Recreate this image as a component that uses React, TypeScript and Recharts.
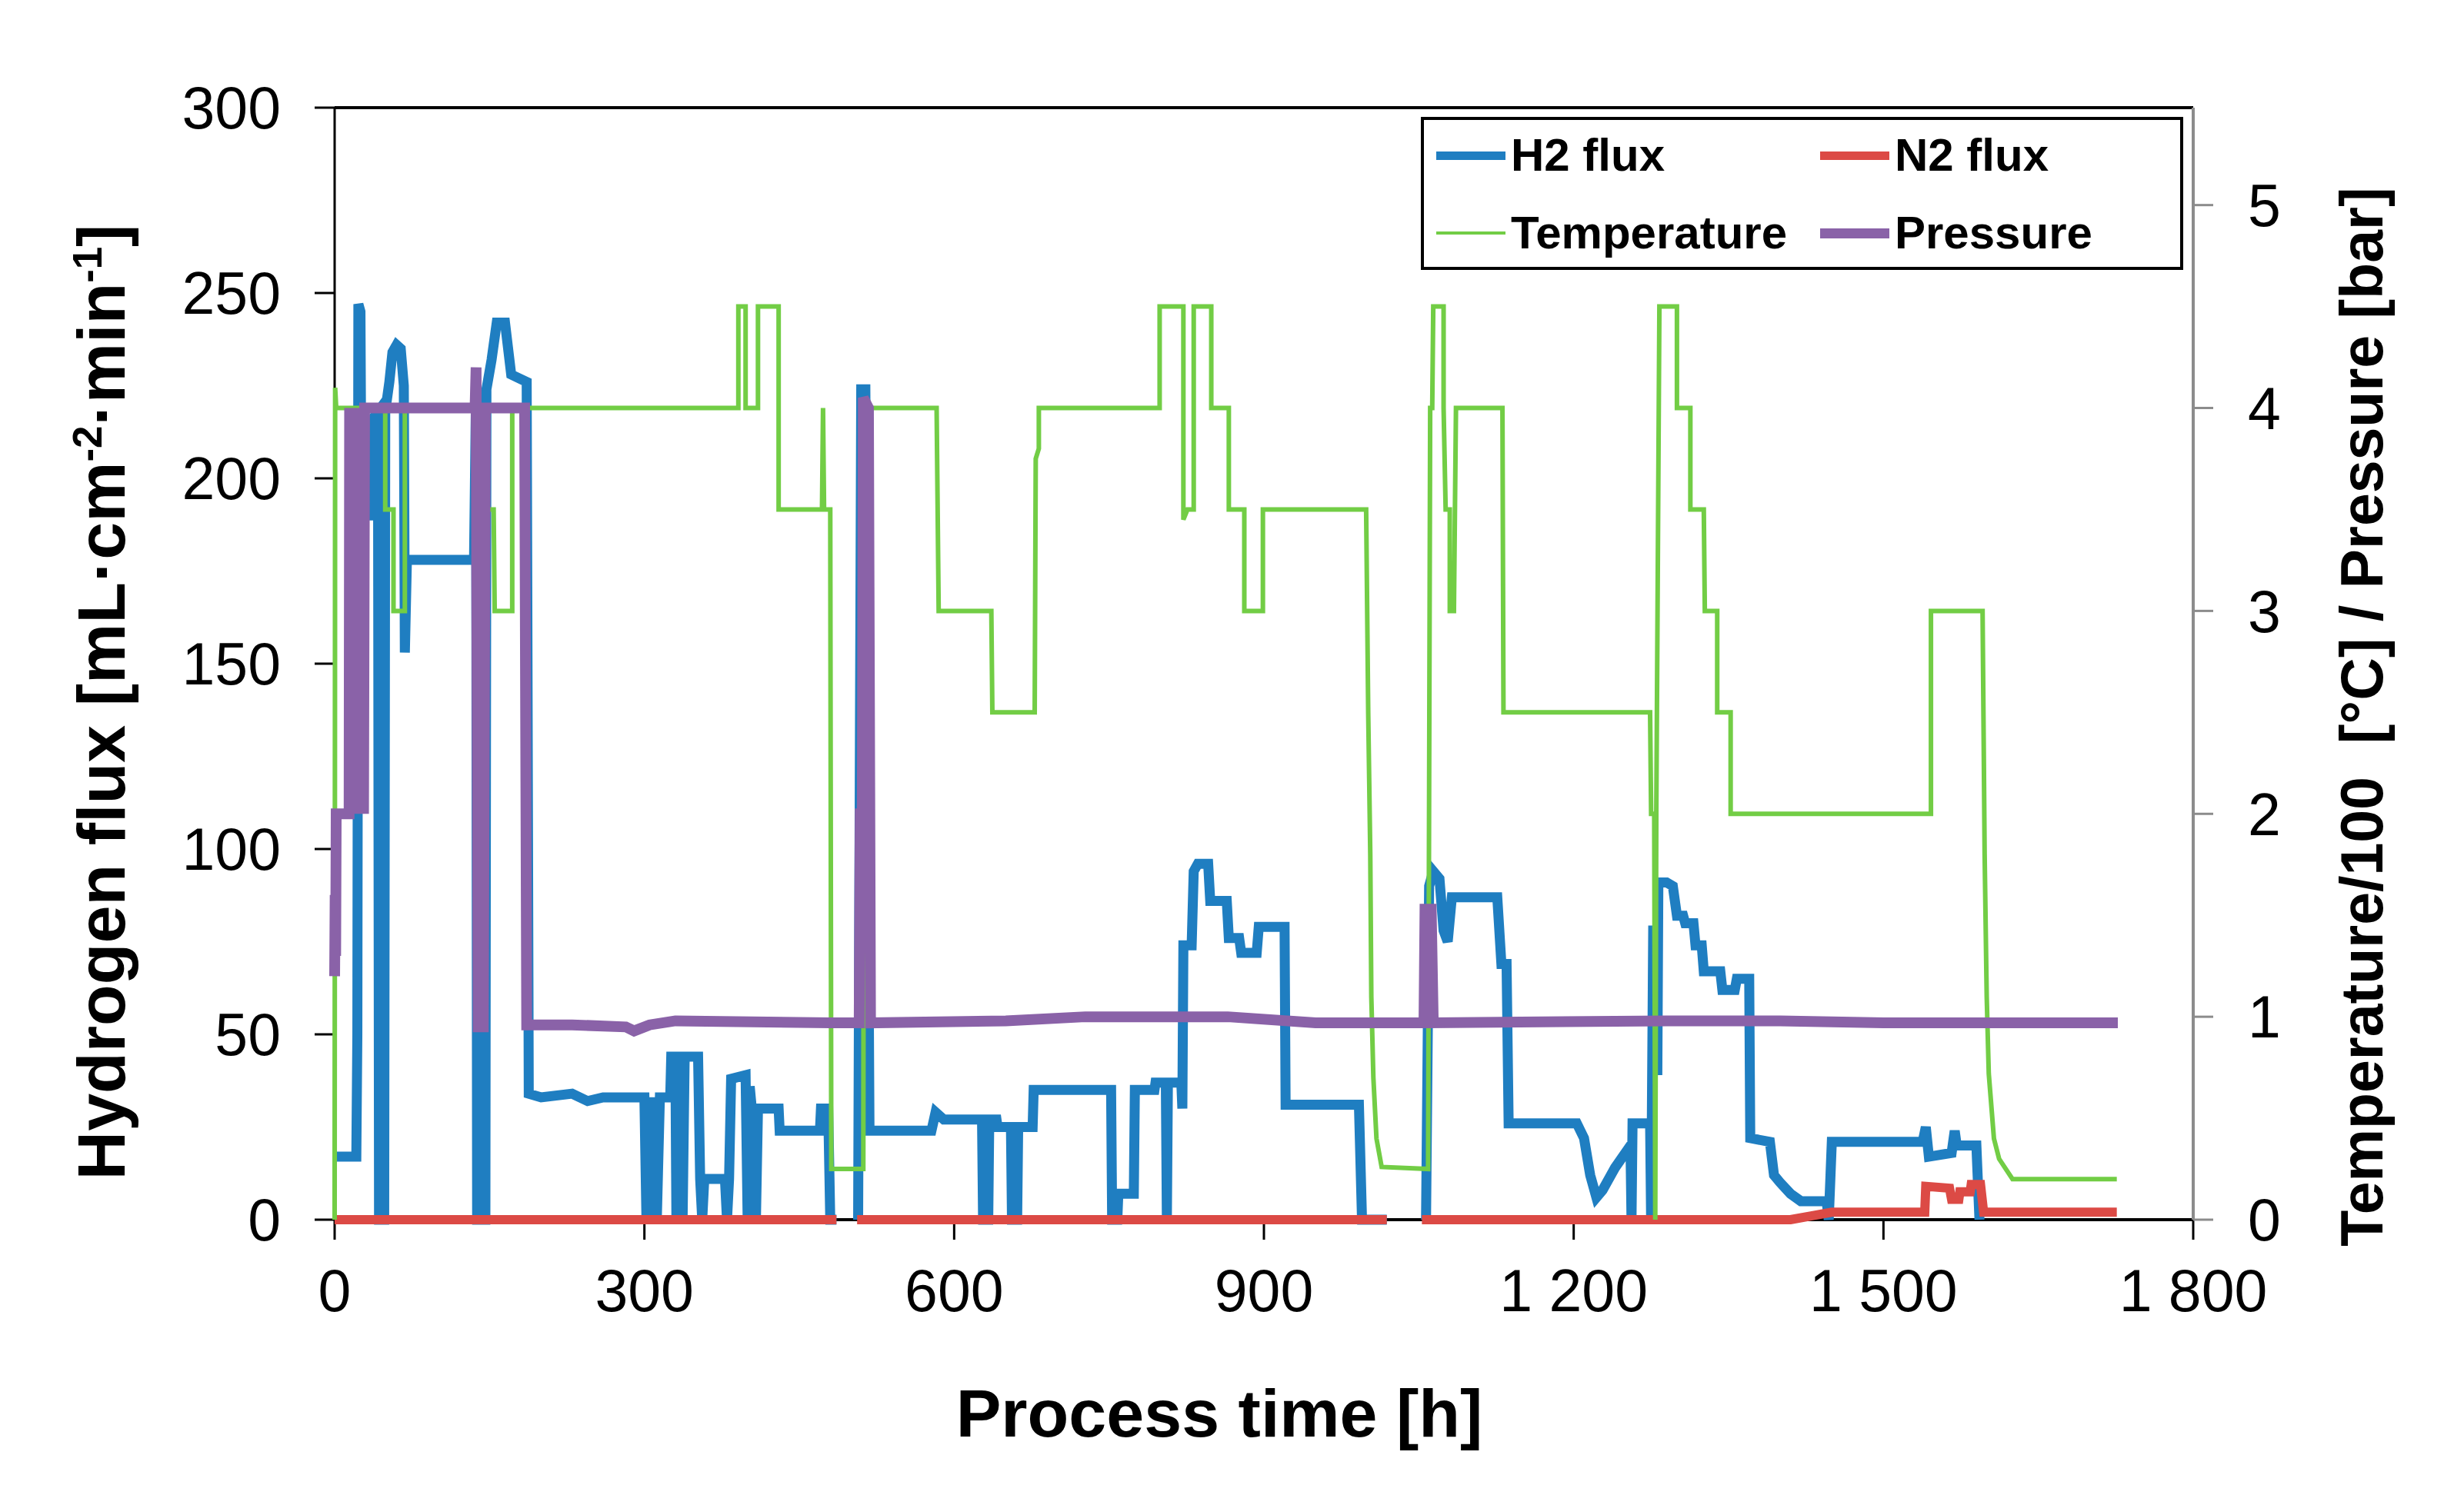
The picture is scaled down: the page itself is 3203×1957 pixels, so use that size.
import { LineChart, Line, XAxis, YAxis, ReferenceLine } from "recharts";

const xTicks = [0, 300, 600, 900, 1200, 1500, 1800];
const fluxTicks = [0, 50, 100, 150, 200, 250, 300];
const rightTicks = [0, 1, 2, 3, 4, 5];

// [time h, H2 flux mL/cm2/min]
const h2Flux: [number, number | null][] = [
  [2, 17], [21, 17], [22, 50], [23, 247], [25, 245], [26, 190], [33, 190], [34, 215], [42, 218], [43, 0], [48, 0],
  [49, 218], [53, 226], [56, 234], [60, 236], [64, 235], [67, 225], [68, 153], [70, 178], [135, 178], [137, 225],
  [138, 0], [146, 0], [147, 224], [152, 232], [157, 242], [165, 242], [171, 228], [186, 226], [188, 34], [200, 33],
  [230, 34], [245, 32], [260, 33], [300, 33], [302, 0], [305, 33], [307, 0], [310, 33], [312, 0], [315, 33],
  [325, 33], [326, 44], [330, 44], [331, 0], [333, 44], [337, 0], [339, 44], [352, 44], [354, 11], [356, 0],
  [358, 11], [378, 11], [380, 0], [382, 11], [384, 38], [398, 39], [400, 0], [402, 36], [404, 30], [408, 0],
  [410, 30], [430, 30], [431, 24], [470, 24], [471, 30], [478, 30], [480, 0], [486, 0], [487, null],
  [507, 0], [510, 224], [514, 224], [518, 24], [578, 24], [582, 29], [590, 27], [627, 27], [628, 0], [633, 0],
  [634, 27], [641, 27], [642, 25], [655, 25], [656, 0], [661, 0], [662, 25], [676, 25], [677, 35], [752, 35],
  [753, 0], [758, 0], [759, 7], [774, 7], [775, 35], [794, 35], [795, 37], [805, 37], [806, 0], [807, 37],
  [820, 37], [821, 30], [822, 74], [830, 74], [832, 94], [836, 96], [846, 96], [848, 86], [864, 86], [866, 76],
  [876, 76], [878, 72], [893, 72], [895, 79], [920, 79], [921, 31], [992, 31], [995, 0], [1019, 0], [1020, null],
  [1057, 0], [1060, 90], [1064, 94], [1070, 92], [1074, 78], [1078, 75], [1082, 87], [1126, 87], [1130, 69],
  [1135, 69], [1137, 26], [1203, 26], [1210, 22], [1216, 12], [1222, 6], [1228, 8], [1240, 14], [1255, 20],
  [1256, 0], [1257, 26], [1274, 26], [1275, 0], [1277, 78], [1280, 78], [1281, 39], [1282, 91], [1290, 91],
  [1296, 90], [1300, 82], [1306, 82], [1308, 80], [1316, 80], [1318, 74], [1324, 74], [1326, 67], [1342, 67],
  [1344, 62], [1356, 62], [1358, 65], [1370, 65], [1371, 22], [1390, 21], [1394, 12], [1400, 10], [1410, 7],
  [1420, 5], [1445, 5], [1447, 0], [1450, 21], [1538, 21], [1541, 25], [1544, 17], [1566, 18], [1569, 24],
  [1571, 20], [1590, 20], [1593, 0],
];

// [time h, N2 flux]
const n2Flux: [number, number | null][] = [
  [0, 0], [486, 0], [487, null], [506, 0], [1019, 0], [1020, null], [1053, 0], [1410, 0], [1430, 1], [1450, 2],
  [1540, 2], [1541, 9], [1564, 8.5], [1566, 5.5], [1573, 5.5], [1574, 7.5], [1584, 7.5], [1585, 9.5], [1594, 9.5],
  [1597, 2], [1726, 2],
];

// [time h, temperature / 100 °C]
const temperature: [number, number][] = [
  [0, 0], [0.5, 4.1], [1.5, 4.0], [49, 4.0], [49, 3.5], [57, 3.5], [57, 3.0], [68, 3.0], [68, 4.0], [148, 4.0],
  [148, 3.5], [154, 3.5], [155, 3.0], [172, 3.0], [172, 4.0], [391, 4.0], [391, 4.5], [398, 4.5], [398, 4.0],
  [410, 4.0], [410, 4.5], [430, 4.5], [430, 3.5], [472, 3.5], [473, 4.0], [474, 3.5], [480, 3.5], [481, 0.25],
  [512, 0.25], [513, 4.0], [583, 4.0], [585, 3.0], [636, 3.0], [637, 2.5], [678, 2.5], [679, 3.75], [682, 3.8],
  [682, 4.0], [799, 4.0], [799, 4.5], [822, 4.5], [822, 3.45], [826, 3.5], [832, 3.5], [832, 4.5], [849, 4.5],
  [849, 4.0], [866, 4.0], [866, 3.5], [881, 3.5], [881, 3.0], [899, 3.0], [899, 3.5], [999, 3.5], [1001, 2.5],
  [1003, 1.8], [1004, 1.1], [1006, 0.7], [1009, 0.4], [1014, 0.26], [1059, 0.25], [1061, 4.0], [1063, 4.0],
  [1064, 4.5], [1074, 4.5], [1074, 4.0], [1076, 3.5], [1080, 3.5], [1080, 3.0], [1084, 3.0], [1086, 4.0],
  [1131, 4.0], [1132, 2.5], [1274, 2.5], [1275, 2.0], [1278, 2.0], [1279, 0], [1280, 2.0], [1283, 4.5],
  [1300, 4.5], [1300, 4.0], [1313, 4.0], [1313, 3.5], [1326, 3.5], [1327, 3.0], [1339, 3.0], [1339, 2.5],
  [1352, 2.5], [1352, 2.0], [1546, 2.0], [1546, 3.0], [1596, 3.0], [1598, 1.8], [1600, 1.1], [1602, 0.72],
  [1607, 0.4], [1612, 0.3], [1625, 0.2], [1726, 0.2],
];

// [time h, pressure bar]
const pressure: [number, number][] = [
  [0, 1.2], [0.5, 1.6], [1, 1.3], [1.5, 2.0], [14, 2.0], [14.5, 4.0], [16, 2.1], [17, 4.0], [19, 2.2], [20, 4.0],
  [22, 2.0], [23, 4.0], [25, 2.1], [26, 4.0], [28, 2.0], [29, 4.0], [136, 4.0], [137, 4.2], [139, 0.95],
  [144, 0.95], [146, 4.0], [184, 4.0], [186, 0.96], [230, 0.96], [282, 0.95], [290, 0.93], [305, 0.96],
  [330, 0.98], [480, 0.97], [508, 0.97], [509, 2.0], [511, 2.0], [512, 4.05], [517, 4.0], [519, 0.97],
  [650, 0.98], [727, 1.0], [865, 1.0], [950, 0.97], [1055, 0.97], [1056, 1.53], [1062, 1.53], [1064, 0.97],
  [1290, 0.98], [1400, 0.98], [1500, 0.97], [1727, 0.97],
];

const toRows = (pts: [number, number | null][]) => pts.map(([t, v]) => ({ t, v }));

const BLUE = "#1f7ec1";
const RED = "#dc4a45";
const GREEN = "#72cd45";
const PURPLE = "#8a62a8";

const FONT = "'Liberation Sans', Arial, sans-serif";
const tickStyle = { fontSize: 77, fill: "#000", fontFamily: FONT };

const fmtX = (v: number) =>
  v >= 1000 ? `${Math.floor(v / 1000)} ${String(v % 1000).padStart(3, "0")}` : `${v}`;

const legendItems = [
  { name: "H2 flux", color: BLUE, width: 11, x: 16, y: 46 },
  { name: "N2 flux", color: RED, width: 11, x: 515, y: 46 },
  { name: "Temperature", color: GREEN, width: 4, x: 16, y: 147 },
  { name: "Pressure", color: PURPLE, width: 13, x: 515, y: 147 },
];

export default function App() {
  return (
    <div style={{ position: "relative", width: 3203, height: 1957, background: "#fff", fontFamily: FONT }}>
      <style>{`body{margin:0}`}</style>
      <LineChart width={3203} height={1957} margin={{ top: 140, right: 102, bottom: 221, left: 135 }}>
        <XAxis
          dataKey="t"
          type="number"
          domain={[0, 1800]}
          ticks={xTicks}
          interval={0}
          tickFormatter={fmtX}
          tick={tickStyle}
          tickSize={26}
          tickMargin={38}
          height={150}
          axisLine={{ stroke: "#000", strokeWidth: 4 }}
          tickLine={{ stroke: "#000", strokeWidth: 3 }}
          allowDuplicatedCategory={false}
        />
        <YAxis
          yAxisId="left"
          domain={[0, 300]}
          ticks={fluxTicks}
          interval={0}
          tick={tickStyle}
          tickSize={26}
          tickMargin={44}
          width={300}
          axisLine={{ stroke: "#000", strokeWidth: 3 }}
          tickLine={{ stroke: "#000", strokeWidth: 3 }}
        />
        <YAxis
          yAxisId="right"
          orientation="right"
          domain={[0, 5.48]}
          ticks={rightTicks}
          interval={0}
          tick={tickStyle}
          tickSize={26}
          tickMargin={45}
          width={250}
          axisLine={{ stroke: "#8c8c8c", strokeWidth: 4 }}
          tickLine={{ stroke: "#8c8c8c", strokeWidth: 3 }}
        />
        <ReferenceLine yAxisId="left" y={300} stroke="#000" strokeWidth={4} />
        <Line
          yAxisId="left"
          data={toRows(h2Flux)}
          dataKey="v"
          type="linear"
          stroke={BLUE}
          strokeWidth={13}
          dot={false}
          zIndex={600}
          isAnimationActive={false}
        />
        <Line
          yAxisId="left"
          data={toRows(n2Flux)}
          dataKey="v"
          type="linear"
          stroke={RED}
          strokeWidth={12}
          dot={false}
          zIndex={610}
          isAnimationActive={false}
        />
        <Line
          yAxisId="right"
          data={toRows(temperature)}
          dataKey="v"
          type="linear"
          stroke={GREEN}
          strokeWidth={6}
          dot={false}
          zIndex={620}
          isAnimationActive={false}
        />
        <Line
          yAxisId="right"
          data={toRows(pressure)}
          dataKey="v"
          type="linear"
          stroke={PURPLE}
          strokeWidth={14}
          dot={false}
          zIndex={630}
          isAnimationActive={false}
        />
      </LineChart>

      <div
        style={{
          position: "absolute",
          left: 1847,
          top: 152,
          width: 991,
          height: 199,
          boxSizing: "border-box",
          border: "4px solid #000",
          background: "#fff",
        }}
      >
        {legendItems.map((it) => (
          <div key={it.name} style={{ position: "absolute", left: it.x, top: it.y - 35, height: 70, display: "flex", alignItems: "center" }}>
            <div style={{ width: 90, height: it.width, background: it.color, marginRight: 7 }} />
            <span style={{ fontSize: 60, fontWeight: "bold", color: "#000", lineHeight: 1 }}>{it.name}</span>
          </div>
        ))}
      </div>

      <div
        style={{
          position: "absolute",
          left: 132,
          top: 913,
          transform: "translate(-50%, -50%) rotate(-90deg)",
          whiteSpace: "nowrap",
          fontSize: 88,
          fontWeight: "bold",
          lineHeight: 1,
        }}
      >
        Hydrogen flux [mL·cm<sup style={{ fontSize: "0.6em" }}>-2</sup>·min<sup style={{ fontSize: "0.6em" }}>-1</sup>]
      </div>
      <div
        style={{
          position: "absolute",
          left: 3070,
          top: 932,
          transform: "translate(-50%, -50%) rotate(-90deg)",
          whiteSpace: "pre",
          fontSize: 77,
          fontWeight: "bold",
          lineHeight: 1,
        }}
      >
        {"Temperature/100  [°C] / Pressure [bar]"}
      </div>
      <div
        style={{
          position: "absolute",
          left: 1585,
          top: 1838,
          transform: "translate(-50%, -50%)",
          whiteSpace: "nowrap",
          fontSize: 88,
          fontWeight: "bold",
          lineHeight: 1,
        }}
      >
        Process time [h]
      </div>
    </div>
  );
}
